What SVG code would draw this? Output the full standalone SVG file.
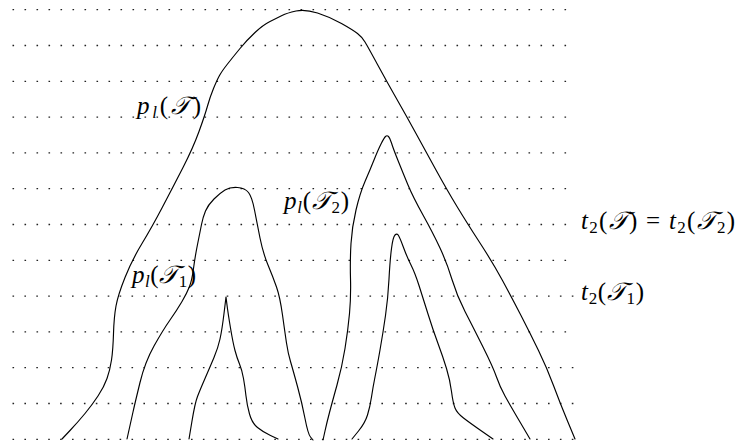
<svg xmlns="http://www.w3.org/2000/svg" width="737" height="442" viewBox="0 0 737 442">
<style>
.row{fill:none;stroke:#222;stroke-width:1.3}
.r47{stroke-dasharray:1.6 10.4}
.r48{stroke-dasharray:1.6 10.3}
.cv{fill:none;stroke:#000;stroke-width:1.15;stroke-linejoin:round;stroke-linecap:round}
.lbl{font-family:"Liberation Serif","DejaVu Serif",serif;font-size:25px;fill:#000}
.it{font-style:italic}
.sb{font-size:17px}
</style>
<rect width="737" height="442" fill="#fff"/>
<g id="grid">
<path class="row r47" d="M12.5,9.7H566.1"/>
<path class="row r47" d="M12.5,45.5H566.1"/>
<path class="row r47" d="M12.5,81.3H566.1"/>
<path class="row r47" d="M12.5,117.1H566.1"/>
<path class="row r47" d="M12.5,152.9H566.1"/>
<path class="row r47" d="M12.5,188.7H566.1"/>
<path class="row r47" d="M12.5,224.5H566.1"/>
<path class="row r47" d="M12.5,260.3H566.1"/>
<path class="row r48" d="M12.5,296.1H573.4"/>
<path class="row r47" d="M12.5,331.9H566.1"/>
<path class="row r48" d="M12.5,367.7H573.4"/>
<path class="row r48" d="M12.5,403.5H573.4"/>
<path class="row r48" d="M12.5,439.3H573.4"/>
</g>
<g id="curves">
<path id="outer-T" class="cv" d="M62,439 L70,430.5 Q78,422 85,413.5 Q92,405 98,396 Q104,387 107,378.5 Q110,370 111.5,360 Q113,350 113.5,333.5 Q114,317 116,306 Q118,295 125,277.5 Q132,260 142,243.5 Q152,227 162.5,207 Q173,187 183,167.5 Q193,148 199,131.5 Q205,115 207.5,106 Q210,97 213.5,88.5 Q217,80 219.5,75.5 Q222,71 227.5,64 Q233,57 240,48.5 Q247,40 255,32.5 Q263,25 270,21.5 Q277,18 282,15.5 Q287,13 296,11 Q305,9 317.5,13 Q330,17 341.5,23.5 Q353,30 357.5,33.5 Q362,37 365,42 Q368,47 377.5,64.5 Q387,82 397,99.5 Q407,117 416,133.5 Q425,150 436,170 Q447,190 457,206.5 Q467,223 480,243 Q493,263 502.5,280.5 Q512,298 521,315.5 Q530,333 538.5,350.5 Q547,368 553.5,385.5 Q560,403 567.5,421 L575,439"/>
<path id="outer-T1" class="cv" d="M127,439 L129,430 Q131,421 133,412 Q135,403 140,382.5 Q145,362 154,346 Q163,330 170,320 Q177,310 182,301.5 Q187,293 189.5,286.5 Q192,280 193.5,268.5 Q195,257 197.5,244.5 Q200,232 201.5,224.5 Q203,217 205.5,211 Q208,205 214,199 Q220,193 225,190 Q230,187 237.5,187.5 Q245,188 248.5,192.5 Q252,197 254.5,210 Q257,223 260,238 Q263,253 268,265 Q273,277 276.5,287 Q280,297 282.5,315 Q285,333 286.5,343 Q288,353 290.5,361.5 Q293,370 297.5,386.5 Q302,403 305,418.5 Q308,434 310.5,437 L313,440"/>
<path id="outer-T2" class="cv" d="M323,440 L325,431 Q327,422 329.5,412.5 Q332,403 337,385 Q342,367 345,348.5 Q348,330 349.5,313.5 Q351,297 350.5,278.5 Q350,260 351,243.5 Q352,227 356,210 Q360,193 365,181.5 Q370,170 374,160 Q378,150 381,144 Q384,138 385.5,136.5 Q387,135 388.5,136.5 Q390,138 391.5,143 Q393,148 398,160.5 Q403,173 408,185 Q413,197 423,215 Q433,233 440,248 Q447,263 452,279.5 Q457,296 465,311.5 Q473,327 483,347 Q493,367 496.5,377 Q500,387 505,396 Q510,405 520,422 L530,439"/>
<path id="inner-T1" class="cv" d="M189,439 L192,421 Q195,403 197.5,396.5 Q200,390 205,378.5 Q210,367 214,357.5 Q218,348 220,339 Q222,330 224,313.5 L226,297 L227,305 Q228,313 230.5,328 Q233,343 235,350.5 Q237,358 239.5,364 Q242,370 243.5,378.5 Q245,387 246,396 Q247,405 249.5,414 Q252,423 257.5,427.5 Q263,432 270.5,435.5 L278,439"/>
<path id="inner-T2" class="cv" d="M352,439 L358.5,431 Q365,423 367.5,415 Q370,407 371.5,397 Q373,387 375,377 Q377,367 380,350 Q383,333 385.5,315.5 Q388,298 389,279 Q390,260 391.5,248.5 Q393,237 395,235 Q397,233 398.5,235.5 Q400,238 403.5,247.5 Q407,257 411,265 Q415,273 419,285.5 Q423,298 428,314 Q433,330 438,343.5 Q443,357 446.5,368.5 Q450,380 451.5,391.5 Q453,403 455,408 Q457,413 463.5,418 Q470,423 481.5,431 L493,439"/>
</g>
<g id="labels" class="lbl">
<text id="lbl-pT" x="137" y="114" textLength="64"><tspan class="it">p</tspan><tspan class="it sb" dy="4">l</tspan><tspan dy="-4">(</tspan><tspan class="it">𝒯</tspan><tspan>)</tspan></text>
<text id="lbl-pT2" x="284" y="209" textLength="65"><tspan class="it">p</tspan><tspan class="it sb" dy="4">l</tspan><tspan dy="-4">(</tspan><tspan class="it">𝒯</tspan><tspan class="sb" dy="4">2</tspan><tspan dy="-4">)</tspan></text>
<text id="lbl-pT1" x="132" y="283" textLength="64"><tspan class="it">p</tspan><tspan class="it sb" dy="4">l</tspan><tspan dy="-4">(</tspan><tspan class="it">𝒯</tspan><tspan class="sb" dy="4">1</tspan><tspan dy="-4">)</tspan></text>
<text id="lbl-tT" x="581" y="229" textLength="154"><tspan class="it">t</tspan><tspan class="sb" dy="4">2</tspan><tspan dy="-4">(</tspan><tspan class="it">𝒯</tspan><tspan>) = </tspan><tspan class="it">t</tspan><tspan class="sb" dy="4">2</tspan><tspan dy="-4">(</tspan><tspan class="it">𝒯</tspan><tspan class="sb" dy="4">2</tspan><tspan dy="-4">)</tspan></text>
<text id="lbl-tT1" x="581" y="300" textLength="63"><tspan class="it">t</tspan><tspan class="sb" dy="4">2</tspan><tspan dy="-4">(</tspan><tspan class="it">𝒯</tspan><tspan class="sb" dy="4">1</tspan><tspan dy="-4">)</tspan></text>
</g>
</svg>
